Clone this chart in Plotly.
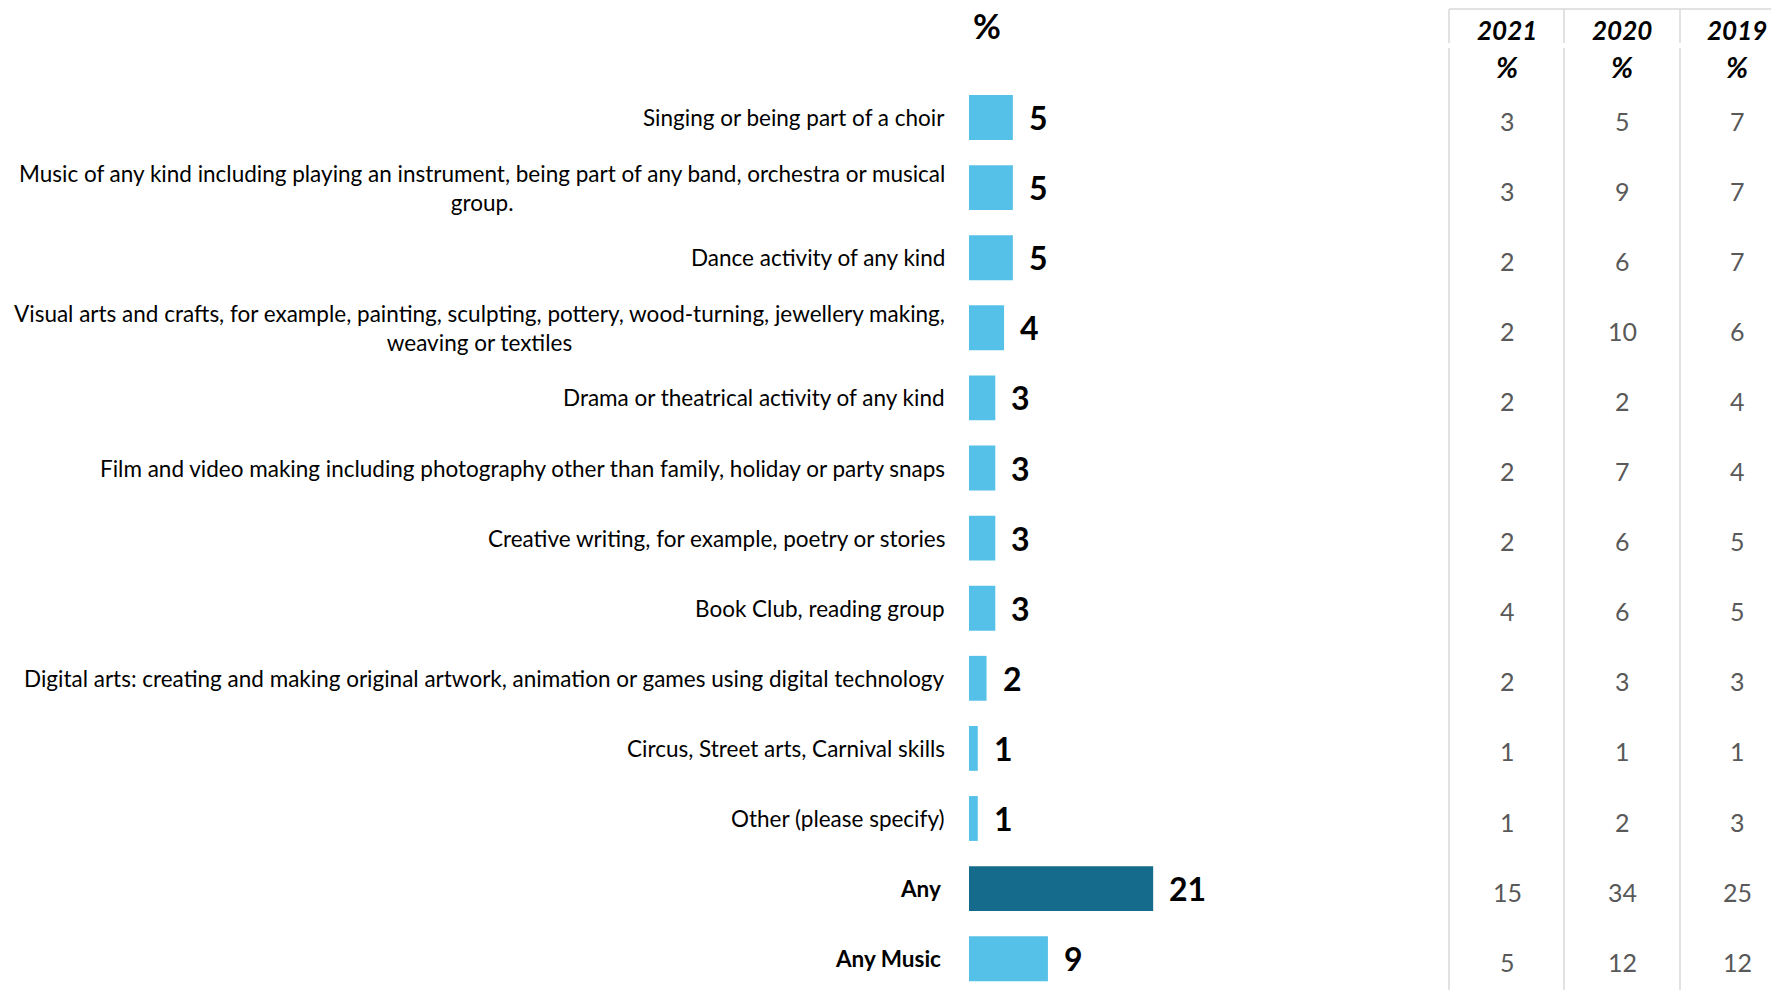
import plotly.graph_objects as go

# Share taking part in each creative activity (%)
activities = [
    "Singing or being part of a choir",
    "Music of any kind including playing an instrument, being part of any band, orchestra or musical<br>group.",
    "Dance activity of any kind",
    "Visual arts and crafts, for example, painting, sculpting, pottery, wood-turning, jewellery making,<br>weaving or textiles",
    "Drama or theatrical activity of any kind",
    "Film and video making including photography other than family, holiday or party snaps",
    "Creative writing, for example, poetry or stories",
    "Book Club, reading group",
    "Digital arts: creating and making original artwork, animation or games using digital technology",
    "Circus, Street arts, Carnival skills",
    "Other (please specify)",
    "<b>Any</b>",
    "<b>Any Music</b>",
]
current = [5, 5, 5, 4, 3, 3, 3, 3, 2, 1, 1, 21, 9]

# Earlier years shown in the side table
years = ["2021", "2020", "2019"]
y2021 = [3, 3, 2, 2, 2, 2, 2, 4, 2, 1, 1, 15, 5]
y2020 = [5, 9, 6, 10, 2, 7, 6, 6, 3, 1, 2, 34, 12]
y2019 = [7, 7, 7, 6, 4, 4, 5, 5, 3, 1, 3, 25, 12]

W, H = 1771, 990
LIGHT = "#56C1E8"
DARK = "#156B8B"
FONT = "Lato"

cats = list(range(len(activities)))
colors = [DARK if a == "<b>Any</b>" else LIGHT for a in activities]

fig = go.Figure()
fig.add_trace(go.Bar(
    x=current, y=cats, orientation="h",
    marker=dict(color=colors, line=dict(width=0)),
    width=0.64, hoverinfo="skip",
))

# Axis geometry (pixels)
x0_px = 969.0
px_per_unit = 8.77
xmax = 50
row0_px = 117.5
row_step = 70.1

annotations = []
# Category labels, right-aligned block, centred lines
for i, lab in enumerate(activities):
    annotations.append(dict(
        x=947 / W, xref="paper", y=i, yref="y",
        text=lab, showarrow=False, xanchor="right", yanchor="middle",
        xshift=-4 if lab.startswith("<b>") else 0,
        align="center", font=dict(family=FONT, size=22.5, color="#000000"),
    ))
# Value labels beside the bars
for i, v in enumerate(current):
    annotations.append(dict(
        x=v, xref="x", y=i, yref="y", text=f"<b>{v}</b>", showarrow=False,
        xanchor="left", yanchor="middle", xshift=14,
        font=dict(family=FONT, size=32, color="#000000"),
    ))
# Header above the bars
annotations.append(dict(
    x=987 / W, xref="paper", y=1 - 26 / H, yref="paper", text="<b>%</b>",
    showarrow=False, xanchor="center", yanchor="middle",
    font=dict(family=FONT, size=34, color="#000000"),
))

# Side table
col_x = [1507, 1622, 1737]
for cx, yr, vals in zip(col_x, years, [y2021, y2020, y2019]):
    annotations.append(dict(
        x=cx / W, xref="paper", y=1 - 30 / H, yref="paper",
        text=f"<b><i>{yr}</i></b>", showarrow=False, xanchor="center", yanchor="middle",
        font=dict(family=FONT, size=26, color="#000000"),
    ))
    annotations.append(dict(
        x=cx / W, xref="paper", y=1 - 67 / H, yref="paper",
        text="<b><i>%</i></b>", showarrow=False, xanchor="center", yanchor="middle",
        font=dict(family=FONT, size=29, color="#000000"),
    ))
    for i, v in enumerate(vals):
        annotations.append(dict(
            x=cx / W, xref="paper", y=i, yref="y", text=str(v), showarrow=False,
            xanchor="center", yanchor="middle", yshift=-3,
            font=dict(family=FONT, size=25, color="#595959"),
        ))

shapes = [dict(type="line", xref="paper", yref="paper",
               x0=1449 / W, x1=1.0, y0=1 - 9 / H, y1=1 - 9 / H,
               line=dict(color="#D9D9D9", width=1.5))]
for lx in [1449, 1564, 1680]:
    for ya, yb in [(9, 43), (48, H)]:
        shapes.append(dict(type="line", xref="paper", yref="paper",
                           x0=lx / W, x1=lx / W, y0=1 - ya / H, y1=1 - yb / H,
                           line=dict(color="#D9D9D9", width=1.5)))

fig.update_layout(
    width=W, height=H,
    margin=dict(l=0, r=0, t=0, b=0),
    paper_bgcolor="white", plot_bgcolor="white",
    showlegend=False,
    xaxis=dict(domain=[x0_px / W, (x0_px + px_per_unit * xmax) / W], range=[0, xmax],
               visible=False, fixedrange=True),
    yaxis=dict(domain=[0, 1],
               range=[(H - row0_px) / row_step, -row0_px / row_step],
               visible=False, fixedrange=True),
    annotations=annotations,
    shapes=shapes,
)

fig.write_html("out.html")
